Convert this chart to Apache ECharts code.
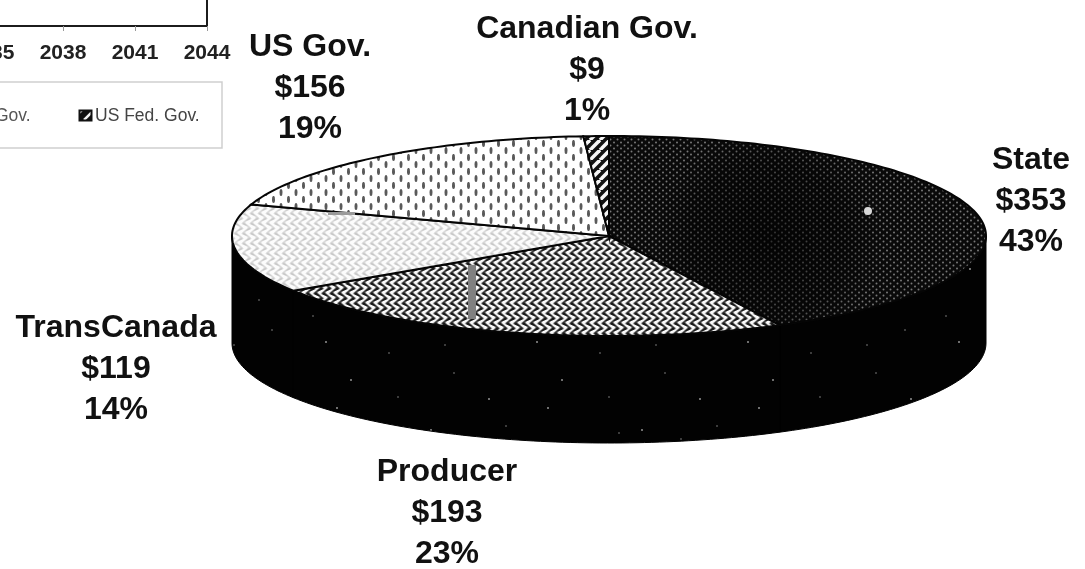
<!DOCTYPE html>
<html>
<head>
<meta charset="utf-8">
<style>html,body{margin:0;padding:0;background:#fff}#main{width:1085px;height:569px}</style>
<script src="https://cdn.jsdelivr.net/npm/echarts@6/dist/echarts.min.js"></script>
</head>
<body>
<div id="main"></div>
<script>
// Funding shares, clockwise from twelve o'clock
const categories = ['State', 'Producer', 'TransCanada', 'US Gov.', 'Canadian Gov.'];
const amounts = [353, 193, 119, 156, 9];
const shares = [43, 23, 14, 19, 1];

// Timeline panel tick labels
const yearTicks = ['2035', '2038', '2041', '2044'];
const legendTexts = ['Gov.', 'US Fed. Gov.'];

// Where each three-line slice label sits (centre x, first-line centre y)
const labelAnchors = [[1031, 160], [447, 472], [116, 328], [310, 47], [587, 29]];

const FONT = '"Liberation Sans", Arial, sans-serif';
const TILT_DEPTH = 1.07; // rim height in units of the minor radius

function tile(w, h, paint) {
  const c = document.createElement('canvas');
  c.width = w; c.height = h;
  paint(c.getContext('2d'), w, h);
  return { image: c, repeat: 'repeat' };
}
function dot(g, x, y, rx, ry) {
  g.beginPath(); g.ellipse(x, y, rx, ry, 0, 0, Math.PI * 2); g.fill();
}
// Soft S-shaped halftone ranging between two grey levels
function weave(lo, hi, bias) {
  return tile(8, 10, (g, w, h) => {
    const img = g.createImageData(w, h);
    for (let y = 0; y < h; y++) {
      for (let x = 0; x < w; x++) {
        const wave = Math.sin(2 * Math.PI * x / 8 + 2.2 * Math.sin(2 * Math.PI * y / 10))
          + 0.35 * Math.sin(2 * Math.PI * y / 5);
        const t = Math.min(1, Math.max(0, 0.5 + 0.6 * wave + bias));
        const v = Math.round(lo + (hi - lo) * t);
        const p = (y * w + x) * 4;
        img.data[p] = img.data[p + 1] = img.data[p + 2] = v;
        img.data[p + 3] = 255;
      }
    }
    g.putImageData(img, 0, 0);
  });
}
function stripes(paper, ink, period, width) {
  return tile(period, period, (g, w, h) => {
    g.fillStyle = paper; g.fillRect(0, 0, w, h);
    g.strokeStyle = ink; g.lineWidth = width;
    [-w, 0, w, 2 * w].forEach(x => {
      g.beginPath(); g.moveTo(x, h); g.lineTo(x + w, 0); g.stroke();
    });
  });
}

// Halftone fills for the slice tops
const fills = [
  tile(7, 6, (g, w, h) => {
    g.fillStyle = '#0a0a0a'; g.fillRect(0, 0, w, h);
    g.fillStyle = '#787878';
    dot(g, 1.5, 1.5, 1, 1); dot(g, 5, 4.5, 1, 1);
  }),
  weave(25, 250, 0.05),
  weave(200, 252, 0.25),
  tile(15, 14, (g, w, h) => {
    g.fillStyle = '#ffffff'; g.fillRect(0, 0, w, h);
    g.fillStyle = '#5a5a5a';
    dot(g, 3.5, 3.5, 1.5, 3.6); dot(g, 11, 10.5, 1.5, 3.6);
  }),
  stripes('#111111', '#f5f5f5', 10, 3.6)
];
const swatchFill = stripes('#111111', '#f5f5f5', 12, 2.5);

// Rim: near-black with sparse pale flecks
const rimFill = tile(211, 139, (g, w, h) => {
  g.fillStyle = '#020202'; g.fillRect(0, 0, w, h);
  [[8, 12], [31, 94], [47, 21], [66, 120], [83, 8], [101, 37], [114, 63], [22, 66],
   [158, 33], [139, 101], [177, 74], [196, 15], [125, 129], [60, 51], [186, 118]].forEach(([x, y], i) => {
    g.fillStyle = i % 3 ? '#3c3c3c' : '#6e6e6e';
    g.fillRect(x, y, 2, 2);
  });
});

const total = amounts.reduce((a, b) => a + b, 0);

// Angle span of a slice, in radians clockwise from the top of the ellipse
function span(i) {
  const before = amounts.slice(0, i).reduce((a, b) => a + b, 0);
  return [before / total * Math.PI * 2, (before + amounts[i]) / total * Math.PI * 2];
}
function arcPoints(api, a0, a1, drop) {
  const steps = Math.max(2, Math.ceil((a1 - a0) / 0.02));
  const pts = [];
  for (let k = 0; k <= steps; k++) {
    const a = a0 + (a1 - a0) * k / steps;
    pts.push(api.coord([Math.sin(a), Math.cos(a) - drop]));
  }
  return pts;
}

function renderRim(params, api) {
  const [s, e] = span(params.dataIndex);
  const a0 = Math.max(s, Math.PI / 2), a1 = Math.min(e, Math.PI * 1.5);
  if (a1 <= a0) return null;
  const upper = arcPoints(api, a0, a1, 0);
  const lower = arcPoints(api, a0, a1, TILT_DEPTH).reverse();
  return {
    type: 'polygon',
    shape: { points: upper.concat(lower) },
    style: { fill: rimFill, stroke: '#020202', lineWidth: 1 }
  };
}
function renderTop(params, api) {
  const i = params.dataIndex;
  const [s, e] = span(i);
  const pts = [api.coord([0, 0])].concat(arcPoints(api, s, e, 0));
  const children = [{
    type: 'polygon',
    shape: { points: pts },
    style: { fill: fills[i], stroke: '#050505', lineWidth: 2 }
  }];
  // The darkest slice fades towards its middle
  if (i === 0) {
    children.push({
      type: 'polygon',
      shape: { points: pts },
      style: {
        fill: {
          type: 'radial', x: 0.42, y: 0.55, r: 0.6,
          colorStops: [{ offset: 0, color: 'rgba(0,0,0,0.6)' }, { offset: 0.7, color: 'rgba(0,0,0,0.35)' }, { offset: 1, color: 'rgba(0,0,0,0)' }]
        }
      }
    });
  }
  return { type: 'group', children };
}

const sliceLabels = categories.map((name, i) => ({
  type: 'text',
  z: 20,
  x: labelAnchors[i][0],
  y: labelAnchors[i][1] - 20,
  style: {
    text: name + '\n$' + amounts[i] + '\n' + shares[i] + '%',
    font: 'bold 32px ' + FONT,
    lineHeight: 41,
    fill: '#111',
    align: 'center',
    verticalAlign: 'top'
  }
}));

const chart = echarts.init(document.getElementById('main'), null, { renderer: 'canvas' });
chart.setOption({
  animation: false,
  backgroundColor: '#ffffff',
  grid: [
    // Timeline panel running off the top-left corner
    { left: -9, width: 216, top: -60, height: 86, outerBoundsMode: 'none', containLabel: false, show: true, borderColor: '#1c1c1c', borderWidth: 2, backgroundColor: 'transparent' },
    // Pie plane: one x unit is the major radius, one y unit the minor radius
    { left: 232, width: 754, top: 136, height: 307, outerBoundsMode: 'none' }
  ],
  xAxis: [
    {
      gridIndex: 0, type: 'category', boundaryGap: false, data: yearTicks,
      axisLine: { lineStyle: { color: '#1c1c1c', width: 2 } },
      axisTick: { alignWithLabel: true, length: 5, lineStyle: { color: '#999' } },
      axisLabel: { color: '#222', fontFamily: FONT, fontWeight: 'bold', fontSize: 21, margin: 17, showMinLabel: true, showMaxLabel: true, interval: 0, hideOverlap: false }
    },
    { gridIndex: 1, type: 'value', min: -1, max: 1, show: false }
  ],
  yAxis: [
    { gridIndex: 0, type: 'value', show: false, splitLine: { show: false } },
    { gridIndex: 1, type: 'value', min: -1 - TILT_DEPTH, max: 1, show: false, splitLine: { show: false } }
  ],
  series: [
    { type: 'custom', xAxisIndex: 1, yAxisIndex: 1, coordinateSystem: 'cartesian2d', clip: false, data: amounts, encode: { x: [], y: [] }, renderItem: renderRim, silent: true, z: 2 },
    { type: 'custom', xAxisIndex: 1, yAxisIndex: 1, coordinateSystem: 'cartesian2d', clip: false, data: amounts, encode: { x: [], y: [] }, renderItem: renderTop, silent: true, z: 3 }
  ],
  graphic: [
    // Legend frame of the timeline panel
    { type: 'rect', z: 5, shape: { x: -10, y: 82, width: 232, height: 66 }, style: { fill: '#fff', stroke: '#cfcfcf', lineWidth: 1.5 } },
    { type: 'text', z: 6, x: -5, y: 116, style: { text: legendTexts[0], font: '17.5px ' + FONT, fill: '#555', verticalAlign: 'middle' } },
    { type: 'rect', z: 6, shape: { x: 79.5, y: 110.5, width: 12, height: 10 }, style: { fill: swatchFill, stroke: '#111', lineWidth: 2 } },
    { type: 'text', z: 6, x: 95, y: 116, style: { text: legendTexts[1], font: '17.5px ' + FONT, fill: '#444', verticalAlign: 'middle' } },
    // Scanner marks across the pie top
    { type: 'rect', z: 8, shape: { x: 468, y: 265, width: 8, height: 54 }, style: { fill: '#808080' } },
    { type: 'rect', z: 8, shape: { x: 328, y: 212, width: 27, height: 3 }, style: { fill: '#9a9a9a' } },
    { type: 'circle', z: 8, shape: { cx: 868, cy: 211, r: 4 }, style: { fill: '#d8d8d8' } }
  ].concat(sliceLabels)
});
</script>
</body>
</html>
